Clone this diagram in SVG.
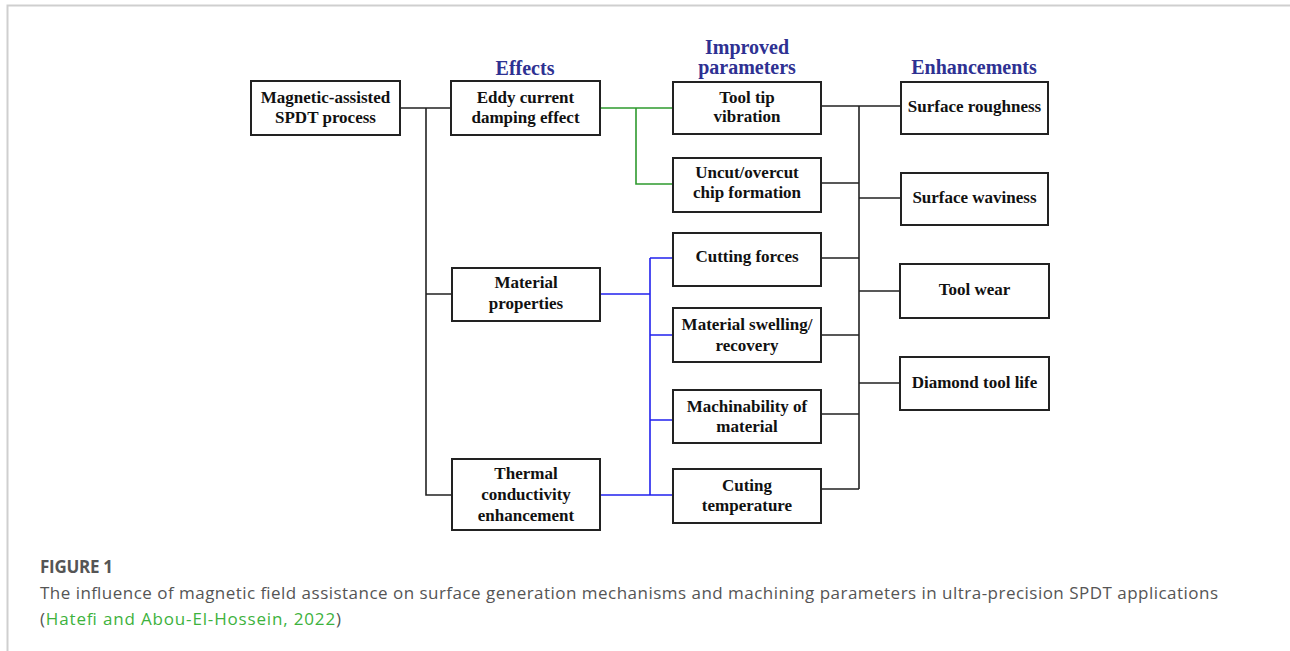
<svg xmlns="http://www.w3.org/2000/svg" width="1290" height="651" viewBox="0 0 1290 651">
<style>
.box{fill:#fff;stroke:#222;stroke-width:2}
.t{font-family:"Liberation Serif","Times New Roman",serif;font-weight:bold;font-size:17px;fill:#111;text-anchor:middle}
.h{font-family:"Liberation Serif","Times New Roman",serif;font-weight:bold;font-size:20px;fill:#2e3192;text-anchor:middle}
.k{fill:none;stroke:#222;stroke-width:1.6}
.g{fill:none;stroke:#2e9a2e;stroke-width:1.6}
.b{fill:none;stroke:#2222ee;stroke-width:1.6}
.cap{font-family:"Open Sans","Noto Sans",sans-serif;font-size:17px;fill:#555}
</style>
<rect width="1290" height="651" fill="#fff"/>
<path d="M7.5 651V5.5H1290" fill="none" stroke="#cfcfcf" stroke-width="2"/>
<g id="headers">
<text class="h" x="525" y="75">Effects</text>
<text class="h" x="747" y="54">Improved</text>
<text class="h" x="747" y="74">parameters</text>
<text class="h" x="974" y="74">Enhancements</text>
</g>
<g id="connectors">
<path class="k" d="M400 108H451M426 108V495H452M426 294H452"/>
<path class="g" d="M600 108H673M636 108V184H673"/>
<path class="b" d="M600 294H650M600 495H673M650 258V495M650 258H673M650 335H673M650 420H673"/>
<path class="k" d="M821 106H901M859 106V489M821 183H859M859 198H901M821 258H859M859 291H900M821 335H859M859 383H900M821 414H859M821 489H859"/>
</g>
<g id="n-magnetic"><rect class="box" x="251" y="81" width="149" height="54"/><text class="t" x="325.5" y="103">Magnetic-assisted</text><text class="t" x="325.5" y="123">SPDT process</text></g>
<g id="n-eddy"><rect class="box" x="451" y="81" width="149" height="54"/><text class="t" x="525.5" y="103">Eddy current</text><text class="t" x="525.5" y="123">damping effect</text></g>
<g id="n-material"><rect class="box" x="452" y="268" width="148" height="53"/><text class="t" x="526" y="288">Material</text><text class="t" x="526" y="309">properties</text></g>
<g id="n-thermal"><rect class="box" x="452" y="459" width="148" height="71"/><text class="t" x="526" y="479">Thermal</text><text class="t" x="526" y="500">conductivity</text><text class="t" x="526" y="521">enhancement</text></g>
<g id="n-tooltip"><rect class="box" x="673" y="82" width="148" height="52"/><text class="t" x="747" y="103">Tool tip</text><text class="t" x="747" y="122">vibration</text></g>
<g id="n-uncut"><rect class="box" x="673" y="158" width="148" height="54"/><text class="t" x="747" y="178">Uncut/overcut</text><text class="t" x="747" y="198">chip formation</text></g>
<g id="n-cutforces"><rect class="box" x="673" y="233" width="148" height="53"/><text class="t" x="747" y="262">Cutting forces</text></g>
<g id="n-swelling"><rect class="box" x="673" y="308" width="148" height="54"/><text class="t" x="747" y="330">Material swelling/</text><text class="t" x="747" y="351">recovery</text></g>
<g id="n-machin"><rect class="box" x="673" y="390" width="148" height="53"/><text class="t" x="747" y="412">Machinability of</text><text class="t" x="747" y="432">material</text></g>
<g id="n-temp"><rect class="box" x="673" y="469" width="148" height="54"/><text class="t" x="747" y="491">Cuting</text><text class="t" x="747" y="511">temperature</text></g>
<g id="n-rough"><rect class="box" x="901" y="82" width="147" height="52"/><text class="t" x="974.5" y="112">Surface roughness</text></g>
<g id="n-wavi"><rect class="box" x="901" y="173" width="147" height="52"/><text class="t" x="974.5" y="203">Surface waviness</text></g>
<g id="n-wear"><rect class="box" x="900" y="264" width="149" height="54"/><text class="t" x="974.5" y="295">Tool wear</text></g>
<g id="n-life"><rect class="box" x="900" y="357" width="149" height="53"/><text class="t" x="974.5" y="388">Diamond tool life</text></g>
<g id="caption">
<text class="cap" x="40" y="573" font-weight="bold" fill="#666" textLength="73">FIGURE 1</text>
<text class="cap" x="40" y="599" textLength="1178" lengthAdjust="spacing">The influence of magnetic field assistance on surface generation mechanisms and machining parameters in ultra-precision SPDT applications</text>
<text class="cap" x="40" y="625" textLength="301" lengthAdjust="spacing">(<tspan fill="#3db23d">Hatefi and Abou-El-Hossein, 2022</tspan>)</text>
</g>
</svg>
